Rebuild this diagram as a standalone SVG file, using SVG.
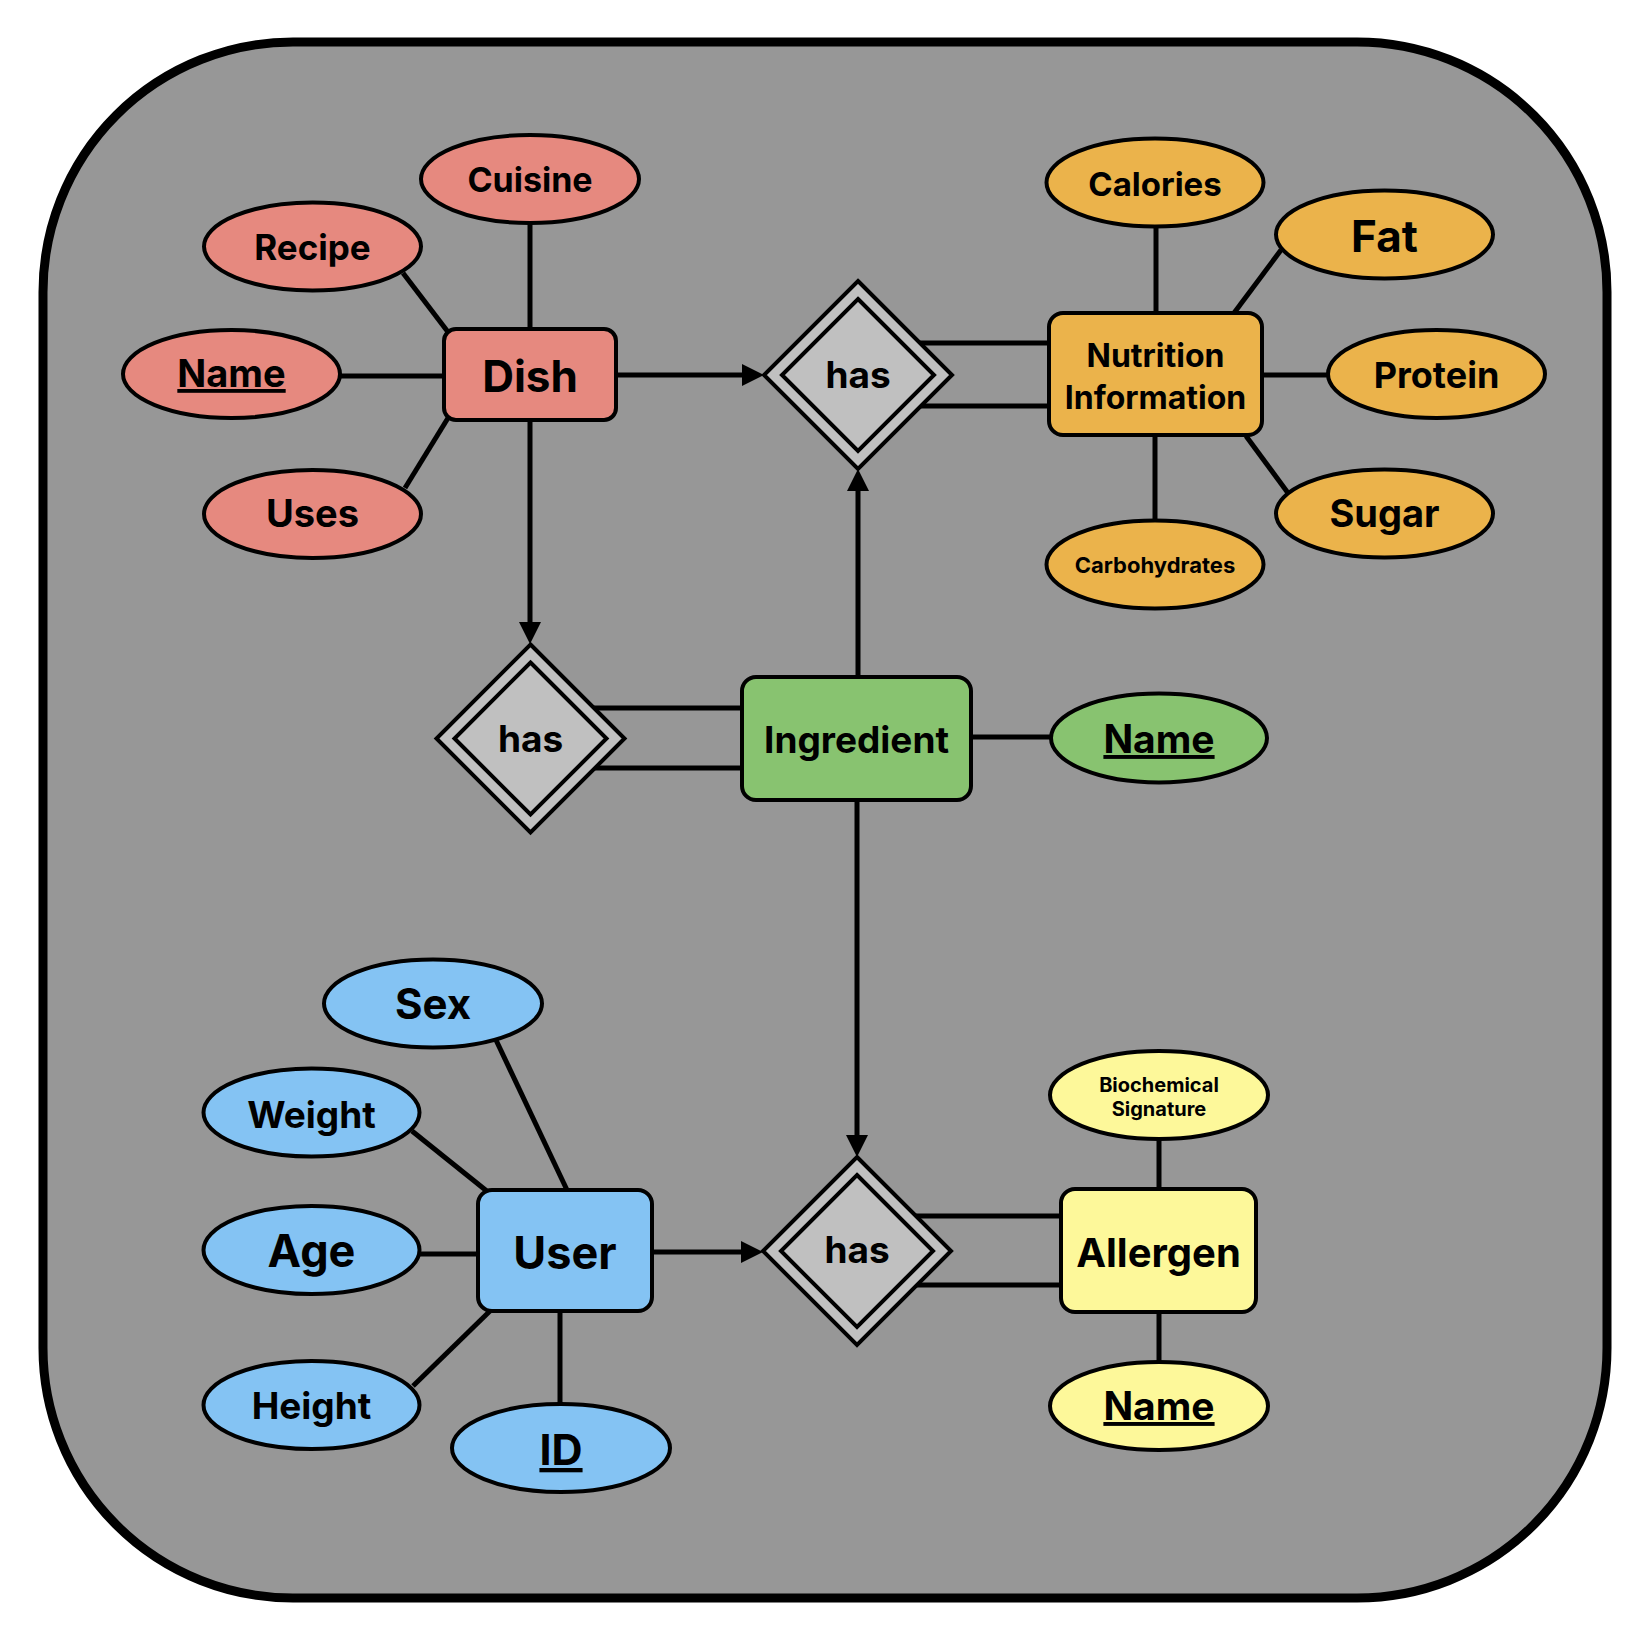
<svg xmlns="http://www.w3.org/2000/svg" width="1650" height="1643" viewBox="0 0 1650 1643">
<style>
text{font-family:Inter,"Liberation Sans",sans-serif;font-weight:700;fill:#000;text-anchor:middle}
.ent{stroke:#000;stroke-width:4}
.att{stroke:#000;stroke-width:4}
.rel{fill:#c0c0c0;stroke:#000;stroke-width:4;stroke-linejoin:miter}
.red{fill:#e6897f}
.org{fill:#ebb34b}
.grn{fill:#88c370}
.blu{fill:#84c3f3}
.yel{fill:#fdf89a}
.u{text-decoration:underline}
#connectors line{stroke:#000;stroke-width:5}
</style>
<defs>
<marker id="arr" markerUnits="userSpaceOnUse" viewBox="0 0 22 22" refX="0" refY="11" markerWidth="22" markerHeight="22" orient="auto">
<path d="M0,0 L22,11 L0,22 z" fill="#000"/>
</marker>
</defs>
<rect id="frame" x="43" y="42" width="1564" height="1556" rx="250" ry="250" fill="#979797" stroke="#000" stroke-width="9"/>
<g id="connectors">
<line x1="530" y1="223" x2="530" y2="329"/>
<line x1="403" y1="273" x2="448" y2="332"/>
<line x1="340" y1="376" x2="444" y2="376"/>
<line x1="448" y1="418" x2="405" y2="488"/>
<line x1="617" y1="375" x2="742" y2="375" marker-end="url(#arr)"/>
<line x1="530" y1="421" x2="530" y2="622" marker-end="url(#arr)"/>
<line x1="1156" y1="227" x2="1156" y2="313"/>
<line x1="1234" y1="313" x2="1281" y2="250"/>
<line x1="1262" y1="375" x2="1328" y2="375"/>
<line x1="1246" y1="436" x2="1288" y2="493"/>
<line x1="1155" y1="435" x2="1155" y2="520"/>
<line x1="920" y1="343" x2="1049" y2="343"/>
<line x1="920" y1="406" x2="1049" y2="406"/>
<line x1="858" y1="677" x2="858" y2="491" marker-end="url(#arr)"/>
<line x1="594" y1="708" x2="742" y2="708"/>
<line x1="595" y1="768" x2="742" y2="768"/>
<line x1="971" y1="737" x2="1051" y2="737"/>
<line x1="857" y1="800" x2="857" y2="1135" marker-end="url(#arr)"/>
<line x1="652" y1="1252" x2="741" y2="1252" marker-end="url(#arr)"/>
<line x1="916" y1="1216" x2="1061" y2="1216"/>
<line x1="916" y1="1285" x2="1061" y2="1285"/>
<line x1="1159" y1="1139" x2="1159" y2="1189"/>
<line x1="1159" y1="1312" x2="1159" y2="1362"/>
<line x1="496" y1="1040" x2="567" y2="1190"/>
<line x1="412" y1="1131" x2="488" y2="1192"/>
<line x1="419" y1="1254" x2="478" y2="1254"/>
<line x1="490" y1="1311" x2="413" y2="1386"/>
<line x1="560" y1="1311" x2="560" y2="1404"/>
</g>
<g id="dish"><rect class="ent red" x="444" y="329" width="172" height="91" rx="12"/><text x="530" y="392" font-size="44">Dish</text></g>
<g id="dish-cuisine"><ellipse class="att red" cx="530" cy="179" rx="109" ry="44"/><text x="530" y="192" font-size="34">Cuisine</text></g>
<g id="dish-recipe"><ellipse class="att red" cx="312.5" cy="246.5" rx="108.5" ry="44"/><text x="312.5" y="260" font-size="35">Recipe</text></g>
<g id="dish-name"><ellipse class="att red" cx="231.5" cy="374" rx="108.5" ry="44"/><text class="u" x="231.5" y="387" font-size="38">Name</text></g>
<g id="dish-uses"><ellipse class="att red" cx="312.5" cy="514" rx="108.5" ry="44"/><text x="312.5" y="527" font-size="38">Uses</text></g>

<g id="has-nutrition"><polygon class="rel" points="858,281 952,375 858,469 764,375"/><polygon class="rel" points="858,299 934,375 858,451 782,375"/><text x="858" y="388" font-size="37">has</text></g>

<g id="nutrition"><rect class="ent org" x="1049" y="313" width="213" height="122" rx="14"/><text x="1155.5" y="367" font-size="32">Nutrition</text><text x="1155.5" y="409" font-size="32">Information</text></g>
<g id="nut-calories"><ellipse class="att org" cx="1155" cy="182.5" rx="108.5" ry="44"/><text x="1155" y="196" font-size="33">Calories</text></g>
<g id="nut-fat"><ellipse class="att org" cx="1384.5" cy="234.5" rx="108.5" ry="44"/><text x="1384.5" y="252" font-size="44">Fat</text></g>
<g id="nut-protein"><ellipse class="att org" cx="1436.5" cy="374" rx="108.5" ry="44"/><text x="1436.5" y="388" font-size="36">Protein</text></g>
<g id="nut-sugar"><ellipse class="att org" cx="1384.5" cy="513.5" rx="108.5" ry="44"/><text x="1384.5" y="527" font-size="38">Sugar</text></g>
<g id="nut-carbs"><ellipse class="att org" cx="1155" cy="564.5" rx="108.5" ry="44"/><text x="1155" y="573" font-size="22">Carbohydrates</text></g>

<g id="has-ingredient"><polygon class="rel" points="530.5,644.5 624.5,738.5 530.5,832.5 436.5,738.5"/><polygon class="rel" points="530.5,662.5 606.5,738.5 530.5,814.5 454.5,738.5"/><text x="530.5" y="752" font-size="37">has</text></g>

<g id="ingredient"><rect class="ent grn" x="742" y="677" width="229" height="123" rx="14"/><text x="856.5" y="753" font-size="37">Ingredient</text></g>
<g id="ingredient-name"><ellipse class="att grn" cx="1159" cy="738" rx="108" ry="44.5"/><text class="u" x="1159" y="753" font-size="39">Name</text></g>

<g id="has-allergen"><polygon class="rel" points="857,1157 951,1251 857,1345 763,1251"/><polygon class="rel" points="857,1175 933,1251 857,1327 781,1251"/><text x="857" y="1263" font-size="37">has</text></g>

<g id="allergen"><rect class="ent yel" x="1061" y="1189" width="195" height="123" rx="14"/><text x="1158.5" y="1267" font-size="40">Allergen</text></g>
<g id="allergen-bio"><ellipse class="att yel" cx="1159" cy="1095" rx="109" ry="44"/><text x="1159" y="1091.5" font-size="20">Biochemical</text><text x="1159" y="1115.5" font-size="20">Signature</text></g>
<g id="allergen-name"><ellipse class="att yel" cx="1159" cy="1406" rx="109" ry="44"/><text class="u" x="1159" y="1420" font-size="39">Name</text></g>

<g id="user"><rect class="ent blu" x="478" y="1190" width="174" height="121" rx="14"/><text x="565" y="1268.5" font-size="45">User</text></g>
<g id="user-sex"><ellipse class="att blu" cx="433" cy="1003.5" rx="109" ry="44"/><text x="433" y="1018.5" font-size="42">Sex</text></g>
<g id="user-weight"><ellipse class="att blu" cx="311.5" cy="1112.5" rx="108" ry="44"/><text x="311.5" y="1127.5" font-size="37">Weight</text></g>
<g id="user-age"><ellipse class="att blu" cx="311.5" cy="1250" rx="108" ry="44"/><text x="311.5" y="1266.5" font-size="45">Age</text></g>
<g id="user-height"><ellipse class="att blu" cx="311.5" cy="1405" rx="108" ry="44"/><text x="311.5" y="1418.5" font-size="37">Height</text></g>
<g id="user-id"><ellipse class="att blu" cx="561" cy="1448" rx="109" ry="44"/><text class="u" x="561" y="1465" font-size="43">ID</text></g>
</svg>
